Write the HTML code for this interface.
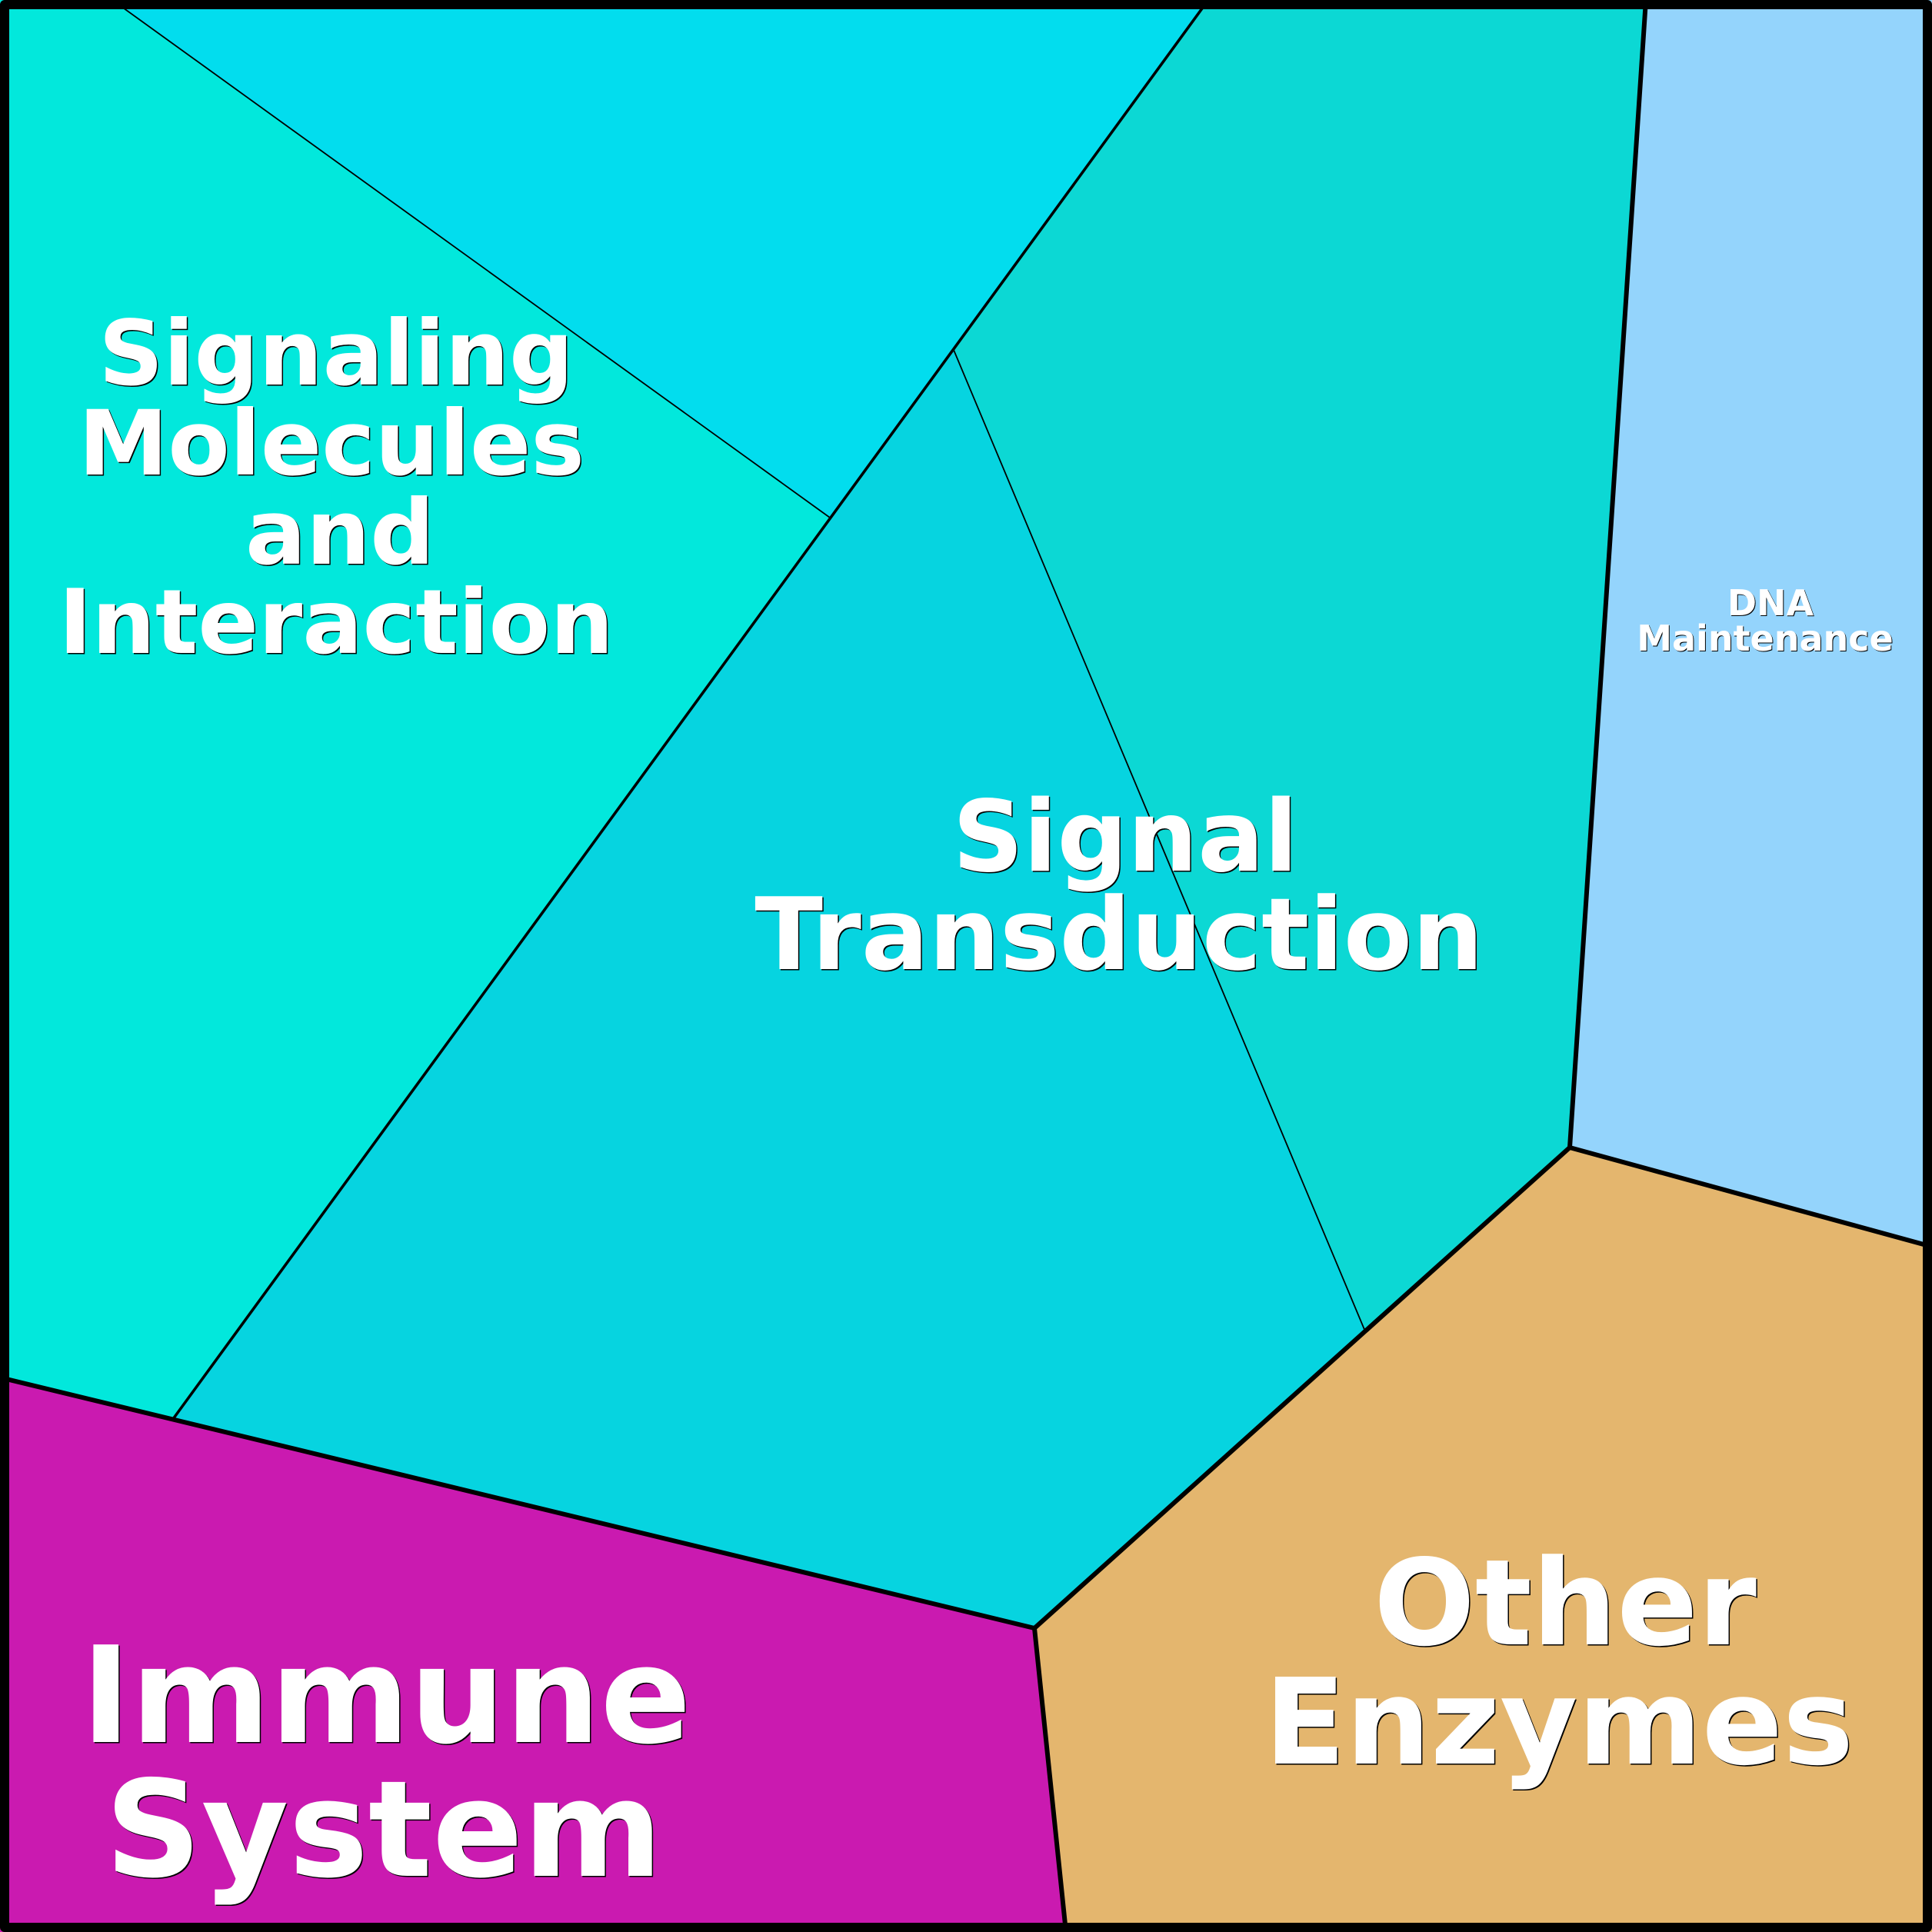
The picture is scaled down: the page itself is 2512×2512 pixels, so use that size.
<!DOCTYPE html>
<html>
<head>
<meta charset="utf-8">
<style>
  html, body { margin: 0; padding: 0; background: #ffffff; }
  svg { display: block; }
  .lbl { font-family: "DejaVu Sans", "Liberation Sans", sans-serif; font-weight: bold; text-anchor: middle; }
</style>
</head>
<body>
<svg width="2512" height="2512" viewBox="0 0 2512 2512" xmlns="http://www.w3.org/2000/svg">
  <!-- cells -->
  <polygon points="0,0 146,0 1079,673 225,1845 0,1791" fill="#02E8DC"/>
  <polygon points="146,0 1571,0 1240,455 1079,673" fill="#02DDEE"/>
  <polygon points="1571,0 2140,0 2041,1492 1775,1731 1240,455" fill="#0CD8D4"/>
  <polygon points="1240,455 1775,1731 1345,2117 225,1845 1079,673" fill="#06D4E0"/>
  <polygon points="2140,0 2512,0 2512,1621 2041,1492" fill="#94D4FC"/>
  <polygon points="2041,1492 2512,1621 2512,2512 1386,2512 1345,2117 1775,1731" fill="#E4B66E"/>
  <polygon points="0,1791 225,1845 1345,2117 1386,2512 0,2512" fill="#CA1AB0"/>

  <!-- level 3 lines -->
  <g stroke="#000" stroke-width="1.8" fill="none" stroke-linecap="round">
    <line x1="146" y1="0" x2="1079" y2="673"/>
    <line x1="1240" y1="455" x2="1775" y2="1731"/>
  </g>
  <!-- level 2 lines -->
  <g stroke="#000" stroke-width="3.6" fill="none" stroke-linecap="round">
    <line x1="1571" y1="0" x2="225" y2="1845"/>
  </g>
  <!-- level 1 lines -->
  <g stroke="#000" stroke-width="6" fill="none" stroke-linecap="round" stroke-linejoin="round">
    <polyline points="2140,0 2041,1492 2512,1621"/>
    <polyline points="2041,1492 1345,2117 1386,2512"/>
    <line x1="0" y1="1791" x2="1345" y2="2117"/>
  </g>

  <!-- outer border -->
  <rect x="6" y="6" width="2500" height="2500" fill="none" stroke="#000" stroke-width="12" stroke-linejoin="round"/>

  <!-- labels: shadow -->
  <g class="lbl" fill="#000">
    <text x="438.5" y="501.5" font-size="117">Signaling</text>
    <text x="432.5" y="618.5" font-size="117">Molecules</text>
    <text x="443.5" y="734.5" font-size="117">and</text>
    <text x="438.5" y="850.5" font-size="116">Interaction</text>

    <text x="1464.5" y="1133.5" font-size="128">Signal</text>
    <text x="1456.5" y="1261.5" font-size="130">Transduction</text>

    <text x="2036.5" y="2139.5" font-size="155">Other</text>
    <text x="2028.5" y="2294.5" font-size="155">Enzymes</text>

    <text x="503.5" y="2266.5" font-size="174">Immune</text>
    <text x="500.5" y="2440.5" font-size="174">System</text>

    <text x="2303" y="801" font-size="46">DNA</text>
    <text x="2296" y="847" font-size="46">Maintenance</text>
  </g>
  <!-- labels: white -->
  <g class="lbl" fill="#fff">
    <text x="437" y="500" font-size="117">Signaling</text>
    <text x="431" y="617" font-size="117">Molecules</text>
    <text x="442" y="733" font-size="117">and</text>
    <text x="437" y="849" font-size="116">Interaction</text>

    <text x="1463" y="1132" font-size="128">Signal</text>
    <text x="1455" y="1260" font-size="130">Transduction</text>

    <text x="2035" y="2138" font-size="155">Other</text>
    <text x="2027" y="2293" font-size="155">Enzymes</text>

    <text x="502" y="2265" font-size="174">Immune</text>
    <text x="499" y="2439" font-size="174">System</text>

    <text x="2302" y="800" font-size="46">DNA</text>
    <text x="2295" y="846" font-size="46">Maintenance</text>
  </g>
</svg>
</body>
</html>
